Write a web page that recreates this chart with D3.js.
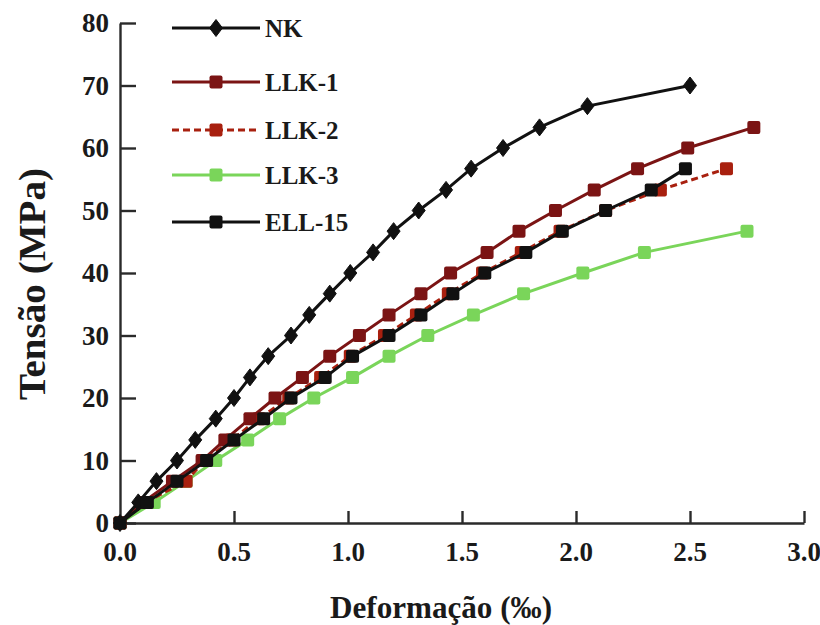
<!DOCTYPE html>
<html>
<head>
<meta charset="utf-8">
<script src="https://cdn.jsdelivr.net/npm/d3@7"></script>
<style>
  body { margin: 0; background: #fff; }
  svg text { font-family: "Liberation Serif", "Times New Roman", Times, serif; font-weight: bold; }
</style>
</head>
<body>
<div id="svgDiv"><svg></svg></div>
<script>
var seriesNames = ["NK", "LLK-1", "LLK-2", "LLK-3", "ELL-15"];

var nkStrain = [0, 0.08, 0.16, 0.25, 0.33, 0.42, 0.50, 0.57, 0.65, 0.75, 0.83, 0.92, 1.01, 1.11, 1.20, 1.31, 1.43, 1.54, 1.68, 1.84, 2.05, 2.50];
var nkStress = [0, 3.3, 6.7, 10, 13.3, 16.7, 20, 23.3, 26.7, 30, 33.3, 36.7, 40, 43.3, 46.7, 50, 53.3, 56.7, 60, 63.3, 66.7, 70];

var llk1Strain = [0, 0.10, 0.23, 0.36, 0.46, 0.57, 0.68, 0.80, 0.92, 1.05, 1.18, 1.32, 1.45, 1.61, 1.75, 1.91, 2.08, 2.27, 2.49, 2.78];
var llk1Stress = [0, 3.3, 6.7, 10, 13.3, 16.7, 20, 23.3, 26.7, 30, 33.3, 36.7, 40, 43.3, 46.7, 50, 53.3, 56.7, 60, 63.3];

var llk2Strain = [0, 0.11, 0.29, 0.37, 0.49, 0.61, 0.74, 0.88, 1.01, 1.16, 1.30, 1.44, 1.59, 1.76, 1.93, 2.13, 2.37, 2.66];
var llk2Stress = [0, 3.3, 6.7, 10, 13.3, 16.7, 20, 23.3, 26.7, 30, 33.3, 36.7, 40, 43.3, 46.7, 50, 53.3, 56.7];

var llk3Strain = [0, 0.15, 0.29, 0.42, 0.56, 0.70, 0.85, 1.02, 1.18, 1.35, 1.55, 1.77, 2.03, 2.30, 2.75];
var llk3Stress = [0, 3.3, 6.7, 10, 13.3, 16.7, 20, 23.3, 26.7, 30, 33.3, 36.7, 40, 43.3, 46.7];

var ell15Strain = [0, 0.12, 0.25, 0.38, 0.50, 0.63, 0.75, 0.90, 1.02, 1.18, 1.32, 1.46, 1.60, 1.78, 1.94, 2.13, 2.33, 2.48];
var ell15Stress = [0, 3.3, 6.7, 10, 13.3, 16.7, 20, 23.3, 26.7, 30, 33.3, 36.7, 40, 43.3, 46.7, 50, 53.3, 56.7];

var xTicks = [0, 0.5, 1.0, 1.5, 2.0, 2.5, 3.0];
var yTicks = [0, 10, 20, 30, 40, 50, 60, 70, 80];

var chart = new function () {
    var svg = d3.select("#svgDiv svg");
    var width = 820;
    var height = 625;
    var serif = "'Liberation Serif', 'Times New Roman', Times, serif";
    svg.attr("width", width).attr("height", height);

    var x = d3.scaleLinear().domain([0, 3]).range([120, 804]);
    var y = d3.scaleLinear().domain([0, 80]).range([523, 23]);

    var styles = {
        "NK":     { color: "#111111", dash: null, marker: "diamond" },
        "LLK-1":  { color: "#7b1414", dash: null, marker: "square" },
        "LLK-2":  { color: "#a8200f", dash: "7,4", marker: "square" },
        "LLK-3":  { color: "#7ad55a", dash: null, marker: "square" },
        "ELL-15": { color: "#111111", dash: null, marker: "square" }
    };

    function zip(xs, ys) {
        return xs.map(function (v, i) { return { x: v, y: ys[i] }; });
    }

    var series = {
        "NK": zip(nkStrain, nkStress),
        "LLK-1": zip(llk1Strain, llk1Stress),
        "LLK-2": zip(llk2Strain, llk2Stress),
        "LLK-3": zip(llk3Strain, llk3Stress),
        "ELL-15": zip(ell15Strain, ell15Stress)
    };

    function drawMarker(g, kind, color) {
        if (kind === "diamond") {
            g.append("path")
                .attr("d", "M0,-8.5L6.5,0L0,8.5L-6.5,0Z")
                .attr("fill", color)
                .attr("stroke", color)
                .attr("stroke-width", 1)
                .attr("stroke-linejoin", "round");
        } else {
            g.append("rect")
                .attr("x", -6.5).attr("y", -6.5)
                .attr("width", 13).attr("height", 13)
                .attr("rx", 2)
                .attr("fill", color);
        }
    }

    // axes
    var xAxis = d3.axisBottom(x).tickValues(xTicks.slice(1)).tickSizeInner(-12).tickSizeOuter(0).tickFormat("");
    var yAxis = d3.axisLeft(y).tickValues(yTicks).tickSizeInner(-16).tickSizeOuter(0).tickFormat("");

    var gx = svg.append("g").attr("transform", "translate(0," + y(0) + ")").call(xAxis);
    var gy = svg.append("g").attr("transform", "translate(" + x(0) + ",0)").call(yAxis);
    [gx, gy].forEach(function (g) {
        g.selectAll("path, line").attr("stroke", "#2a2a2a").attr("stroke-width", 2.4);
    });

    svg.append("g").selectAll("text")
        .data(xTicks)
        .enter().append("text")
        .attr("x", function (d) { return x(d); })
        .attr("y", 561)
        .attr("text-anchor", "middle")
        .attr("font-family", serif)
        .attr("font-size", 27)
        .attr("fill", "#1a1a1a")
        .text(function (d) { return d.toFixed(1); });

    svg.append("g").selectAll("text")
        .data(yTicks)
        .enter().append("text")
        .attr("x", 109)
        .attr("y", function (d) { return y(d); })
        .attr("dy", "0.35em")
        .attr("text-anchor", "end")
        .attr("font-family", serif)
        .attr("font-size", 27)
        .attr("fill", "#1a1a1a")
        .text(function (d) { return d; });

    svg.append("text")
        .attr("transform", "translate(45,284) rotate(-90)")
        .attr("text-anchor", "middle")
        .attr("font-family", serif)
        .attr("font-size", 37)
        .attr("textLength", 232)
        .attr("lengthAdjust", "spacingAndGlyphs")
        .attr("fill", "#1a1a1a")
        .text("Tensão (MPa)");

    svg.append("text")
        .attr("x", 441)
        .attr("y", 618)
        .attr("text-anchor", "middle")
        .attr("font-family", serif)
        .attr("font-size", 31)
        .attr("textLength", 222)
        .attr("lengthAdjust", "spacingAndGlyphs")
        .attr("fill", "#1a1a1a")
        .text("Deformação (‰)");

    // series, drawn bottom to top
    var line = d3.line().x(function (d) { return x(d.x); }).y(function (d) { return y(d.y); });
    var order = ["LLK-3", "LLK-2", "LLK-1", "NK", "ELL-15"];
    order.forEach(function (name) {
        var st = styles[name];
        var g = svg.append("g").attr("class", "series");
        g.append("path")
            .datum(series[name])
            .attr("d", line)
            .attr("fill", "none")
            .attr("stroke", st.color)
            .attr("stroke-width", 3)
            .attr("stroke-dasharray", st.dash);
        g.selectAll("g.pt")
            .data(series[name])
            .enter().append("g")
            .attr("class", "pt")
            .attr("transform", function (d) { return "translate(" + x(d.x) + "," + y(d.y) + ")"; })
            .each(function () { drawMarker(d3.select(this), st.marker, st.color); });
    });

    // legend
    var legendY = [28, 82, 130, 175, 222];
    var legend = svg.append("g").attr("class", "legend");
    seriesNames.forEach(function (name, i) {
        var st = styles[name];
        var row = legend.append("g").attr("transform", "translate(0," + legendY[i] + ")");
        row.append("line")
            .attr("x1", 172).attr("x2", 260)
            .attr("stroke", st.color)
            .attr("stroke-width", 3)
            .attr("stroke-dasharray", st.dash);
        var m = row.append("g").attr("transform", "translate(216,0)");
        drawMarker(m, st.marker, st.color);
        row.append("text")
            .attr("x", 265)
            .attr("dy", "0.35em")
            .attr("font-family", serif)
            .attr("font-size", 25)
            .attr("fill", "#1a1a1a")
            .text(name);
    });
};
</script>
</body>
</html>
